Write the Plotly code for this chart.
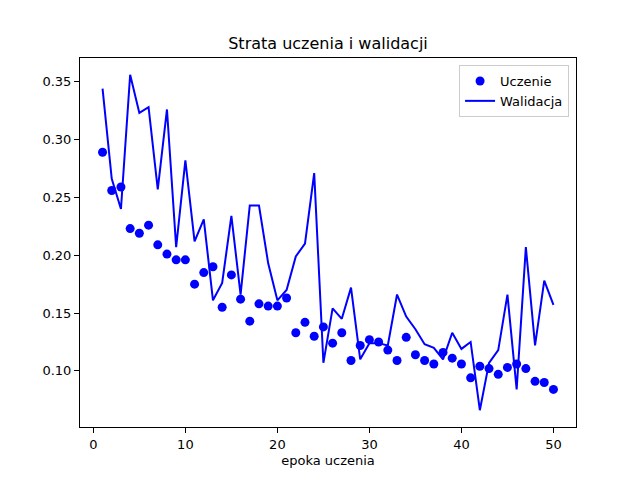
import plotly.graph_objects as go

# loss per epoch
epochs = list(range(1, 51))
train_loss = [
    0.289, 0.256, 0.259, 0.223, 0.219, 0.226, 0.209, 0.201, 0.196, 0.196,
    0.175, 0.185, 0.190, 0.155, 0.183, 0.162, 0.143, 0.158, 0.156, 0.156,
    0.163, 0.133, 0.142, 0.130, 0.138, 0.124, 0.133, 0.109, 0.122, 0.127,
    0.125, 0.118, 0.109, 0.129, 0.114, 0.109, 0.106, 0.116, 0.111, 0.106,
    0.094, 0.104, 0.102, 0.097, 0.103, 0.106, 0.102, 0.091, 0.090, 0.084,
]
val_loss = [
    0.344, 0.266, 0.240, 0.356, 0.323, 0.328, 0.257, 0.326, 0.207, 0.282,
    0.212, 0.231, 0.161, 0.176, 0.234, 0.166, 0.243, 0.243, 0.193, 0.161,
    0.170, 0.199, 0.210, 0.271, 0.107, 0.154, 0.145, 0.172, 0.110, 0.124,
    0.124, 0.122, 0.166, 0.147, 0.136, 0.123, 0.120, 0.110, 0.133, 0.119,
    0.125, 0.066, 0.107, 0.118, 0.166, 0.084, 0.207, 0.122, 0.178, 0.157,
]
y_ticks = [0.10, 0.15, 0.20, 0.25, 0.30, 0.35]
x_ticks = [0, 10, 20, 30, 40, 50]

fig = go.Figure()
fig.add_trace(go.Scatter(x=epochs, y=train_loss, mode="markers", name="Uczenie",
                         marker=dict(color="blue", size=9)))
fig.add_trace(go.Scatter(x=epochs, y=val_loss, mode="lines", name="Walidacja",
                         line=dict(color="blue", width=2)))

axis_style = dict(showgrid=False, zeroline=False, showline=True, linecolor="black",
                  linewidth=1, mirror=True, ticks="outside", ticklen=5, tickwidth=1,
                  tickcolor="black", tickfont=dict(size=13, color="black"))

# page body adds 8px on the left/top, so the figure is shrunk by that much
fig.update_layout(
    width=632, height=472,
    margin=dict(l=72, r=64, t=50, b=53),
    paper_bgcolor="white", plot_bgcolor="white",
    font=dict(family="DejaVu Sans", size=13, color="black"),
    title=dict(text="Strata uczenia i walidacji", x=0.5, xref="paper", xanchor="center",
               y=1, yref="paper", yanchor="bottom", pad=dict(b=9),
               font=dict(size=16, color="black")),
    xaxis=dict(range=[-1.45, 52.45], tickvals=x_ticks,
               title=dict(text="epoka uczenia", standoff=5, font=dict(size=13)), **axis_style),
    yaxis=dict(range=[0.0515, 0.3705], tickvals=y_ticks, tickformat=".2f", **axis_style),
    legend=dict(x=0.986, y=0.981, xanchor="right", yanchor="top",
                bgcolor="rgba(255,255,255,0.8)", bordercolor="#cccccc", borderwidth=1,
                tracegroupgap=0, font=dict(size=13)),
)

fig.write_html("out.html")
